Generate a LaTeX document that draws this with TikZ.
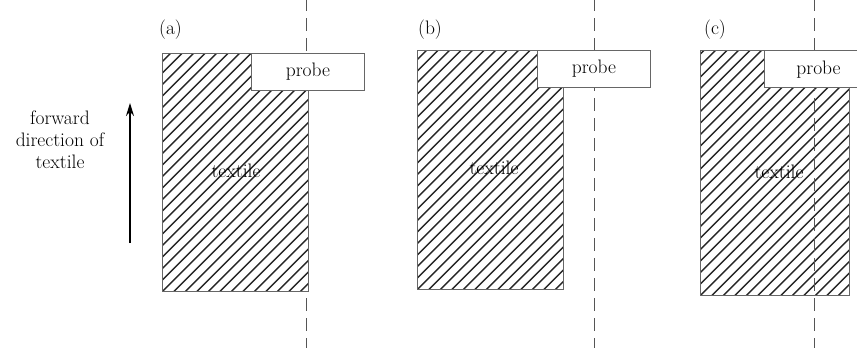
\documentclass[tikz,border=0pt]{standalone}
\usetikzlibrary{arrows.meta}
\definecolor{edgegray}{HTML}{666666}
\definecolor{dashgray}{HTML}{555555}
\definecolor{hatchgray}{HTML}{262626}
\begin{document}
\begin{tikzpicture}[x=1pt, y=-1pt,
  font=\fontsize{19.5}{22}\selectfont,
  textile/.style={draw=edgegray, line width=0.9pt, fill=white, inner sep=0pt,
    minimum width=146pt,
    path picture={
      \foreach \k in {-26,...,16}
        \draw[hatchgray, line width=1.35pt]
          ([xshift=\k*11.5pt]path picture bounding box.south west) -- ++(320pt,320pt);
    }},
  probebox/.style={draw=edgegray, line width=0.9pt, fill=white, inner sep=0pt,
    minimum width=113pt, minimum height=37pt, anchor=north west},
  guide/.style={draw=dashgray, line width=0.9pt, dash pattern=on 13pt off 7pt, dash phase=2pt},
  tag/.style={inner sep=0pt}
]
\useasboundingbox (0,0) rectangle (857,348);

% direction arrow and its caption
\coordinate (arrbot) at (130,243);
\coordinate (arrtop) at (130,103);
\draw[line width=1.6pt, -{Stealth[length=13pt,width=8pt]}] (arrbot) -- (arrtop);
\node[align=center, inner sep=0pt] (dirtext) at (60,140) {forward\\direction of\\textile};

% panel (a)
\node[tag] (la) at (170.5,30) {(a)};
\coordinate (ga1) at (306,0);
\coordinate (ga2) at (306,348);
\draw[guide] (ga1) -- (ga2);
\node[textile, minimum height=238pt, anchor=north west] (ta) at (162,53) {};
\node (tta) at (236,171) {textile};
\node[probebox] (pa) at (251,53) {probe};

% panel (b)
\node[tag] (lb) at (430,30) {(b)};
\coordinate (gb1) at (594,0);
\coordinate (gb2) at (594,348);
\draw[guide] (gb1) -- (gb2);
\node[textile, minimum height=239pt, anchor=north west] (tb) at (417,50) {};
\node (ttb) at (494,168) {textile};
\node[probebox] (pb) at (537,50) {probe};

% panel (c)
\node[tag] (lc) at (715,30) {(c)};
\node[textile, minimum width=149pt, minimum height=245pt, anchor=north west] (tc) at (700,50) {};
\node (ttc) at (779,172) {textile};
\coordinate (gc1) at (814,0);
\coordinate (gc2) at (814,348);
\draw[guide] (gc1) -- (gc2);
\node[probebox] (pc) at (764,50) {};
\node (ptc) at (818.5,70) {probe};
\end{tikzpicture}
\end{document}
